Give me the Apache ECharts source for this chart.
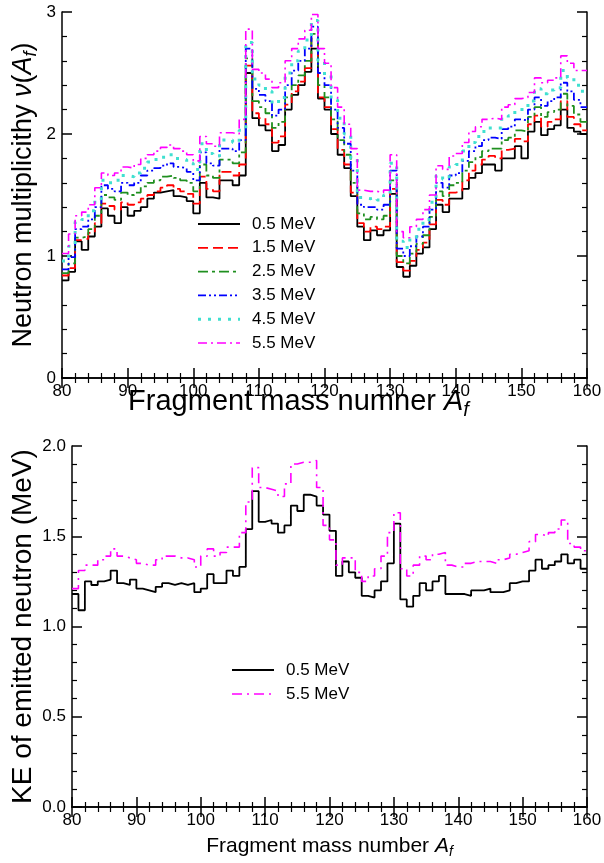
<!DOCTYPE html>
<html>
<head>
<meta charset="utf-8">
<script src="https://cdn.jsdelivr.net/npm/echarts@6/dist/echarts.min.js"></script>
<style>
  html, body { margin: 0; padding: 0; background: #fff; }
  #chart { width: 604px; height: 863px; }
</style>
</head>
<body>
<div id="chart"></div>
<script>
// left edge of each mass bin, A = 80 ... 159
var massNumbers = [];
for (var a = 80; a < 160; a++) massNumbers.push(a);

var energyLabels = ['0.5 MeV', '1.5 MeV', '2.5 MeV', '3.5 MeV', '4.5 MeV', '5.5 MeV'];
var keLabels = ['0.5 MeV', '5.5 MeV'];

// neutron multiplicity nu(A_f), top panel
var nu05 = [0.80,0.87,1.12,1.05,1.16,1.24,1.39,1.33,1.27,1.40, 1.33,1.37,1.40,1.47,1.52,1.53,1.54,1.49,1.48,1.45,
            1.35,1.60,1.48,1.47,1.62,1.62,1.58,1.66,2.50,2.13, 2.07,2.03,1.86,1.91,2.20,2.32,2.40,2.51,2.70,2.29,
            2.20,2.00,1.83,1.72,1.49,1.24,1.13,1.21,1.17,1.21, 1.51,0.91,0.83,0.92,1.02,1.07,1.22,1.42,1.36,1.47,
            1.47,1.55,1.64,1.68,1.75,1.75,1.70,1.80,1.80,1.90, 1.80,2.02,2.10,1.99,2.04,2.07,2.20,2.05,2.02,2.00];
var nu15 = [0.84,0.90,1.13,1.14,1.19,1.27,1.43,1.41,1.38,1.44, 1.42,1.44,1.47,1.50,1.53,1.56,1.58,1.55,1.53,1.51,
            1.43,1.65,1.55,1.53,1.69,1.69,1.66,1.75,2.56,2.17, 2.13,2.08,1.93,1.98,2.24,2.35,2.43,2.54,2.78,2.30,
            2.22,2.04,1.87,1.75,1.52,1.27,1.20,1.24,1.22,1.24, 1.55,0.95,0.88,0.96,1.05,1.11,1.26,1.46,1.42,1.52,
            1.53,1.62,1.70,1.75,1.79,1.82,1.80,1.87,1.88,1.96, 1.94,2.08,2.15,2.06,2.10,2.12,2.27,2.14,2.08,2.03];
var nu25 = [0.86,0.94,1.15,1.16,1.22,1.33,1.50,1.48,1.46,1.52, 1.50,1.52,1.57,1.60,1.62,1.65,1.66,1.64,1.62,1.60,
            1.53,1.75,1.66,1.64,1.79,1.79,1.76,1.85,2.62,2.27, 2.22,2.17,2.05,2.10,2.30,2.40,2.48,2.60,2.82,2.40,
            2.30,2.12,1.95,1.83,1.60,1.35,1.30,1.32,1.30,1.33, 1.62,1.00,0.94,1.02,1.10,1.17,1.32,1.53,1.49,1.58,
            1.60,1.70,1.77,1.81,1.86,1.88,1.88,1.95,1.97,2.03, 2.02,2.14,2.22,2.14,2.18,2.20,2.33,2.23,2.16,2.10];
var nu35 = [0.89,0.99,1.22,1.24,1.30,1.40,1.58,1.55,1.53,1.60, 1.58,1.60,1.66,1.70,1.72,1.74,1.76,1.73,1.72,1.69,
            1.62,1.85,1.76,1.74,1.88,1.88,1.86,1.95,2.70,2.37, 2.32,2.27,2.15,2.20,2.40,2.52,2.60,2.70,2.88,2.50,
            2.40,2.20,2.05,1.92,1.70,1.42,1.40,1.40,1.38,1.42, 1.70,1.06,1.00,1.08,1.16,1.24,1.38,1.60,1.56,1.66,
            1.68,1.78,1.86,1.90,1.95,1.97,1.96,2.04,2.06,2.12, 2.11,2.20,2.30,2.23,2.27,2.30,2.42,2.35,2.28,2.22];
var nu45 = [0.96,1.08,1.28,1.30,1.37,1.47,1.62,1.60,1.62,1.66, 1.65,1.68,1.72,1.77,1.79,1.81,1.83,1.80,1.79,1.76,
            1.71,1.92,1.84,1.82,1.95,1.95,1.93,2.03,2.75,2.45, 2.40,2.35,2.25,2.30,2.50,2.60,2.68,2.77,2.93,2.60,
            2.48,2.28,2.13,2.00,1.80,1.48,1.47,1.48,1.46,1.50, 1.76,1.12,1.07,1.15,1.22,1.30,1.44,1.66,1.63,1.73,
            1.75,1.86,1.93,1.98,2.02,2.05,2.05,2.12,2.15,2.20, 2.20,2.27,2.37,2.33,2.36,2.38,2.52,2.46,2.40,2.35];
var nu55 = [1.02,1.18,1.33,1.36,1.42,1.56,1.68,1.66,1.68,1.73, 1.72,1.75,1.80,1.83,1.86,1.89,1.91,1.88,1.86,1.83,
            1.78,1.98,1.92,1.90,2.01,2.01,2.00,2.12,2.86,2.53, 2.50,2.45,2.38,2.42,2.60,2.70,2.78,2.85,2.98,2.70,
            2.58,2.38,2.22,2.08,1.88,1.54,1.53,1.53,1.52,1.54, 1.83,1.20,1.15,1.24,1.30,1.38,1.50,1.74,1.71,1.82,
            1.84,1.93,2.02,2.06,2.12,2.13,2.12,2.22,2.24,2.29, 2.30,2.34,2.46,2.42,2.44,2.46,2.64,2.58,2.52,2.52];
var nuSeries = [nu05, nu15, nu25, nu35, nu45, nu55];

// kinetic energy of emitted neutron (MeV), bottom panel
var ke05 = [1.18,1.09,1.25,1.23,1.25,1.26,1.31,1.24,1.23,1.26, 1.21,1.20,1.19,1.22,1.24,1.23,1.24,1.23,1.24,1.19,
            1.21,1.29,1.24,1.24,1.31,1.28,1.33,1.54,1.75,1.58, 1.59,1.57,1.52,1.56,1.67,1.64,1.73,1.72,1.67,1.62,
            1.53,1.28,1.36,1.30,1.27,1.17,1.16,1.20,1.25,1.35, 1.57,1.15,1.11,1.17,1.24,1.20,1.25,1.28,1.18,1.18,
            1.18,1.17,1.20,1.20,1.21,1.19,1.19,1.20,1.24,1.25, 1.25,1.31,1.37,1.32,1.34,1.36,1.40,1.35,1.37,1.32];
var ke55 = [1.21,1.31,1.34,1.34,1.37,1.39,1.43,1.39,1.38,1.37, 1.35,1.34,1.34,1.37,1.39,1.39,1.38,1.38,1.37,1.33,
            1.39,1.43,1.39,1.41,1.44,1.44,1.52,1.69,1.88,1.77, 1.76,1.75,1.72,1.79,1.90,1.91,1.91,1.92,1.77,1.56,
            1.48,1.34,1.38,1.38,1.30,1.25,1.28,1.32,1.39,1.52, 1.63,1.32,1.28,1.34,1.39,1.37,1.40,1.41,1.34,1.33,
            1.33,1.35,1.36,1.36,1.36,1.35,1.37,1.38,1.40,1.41, 1.42,1.47,1.51,1.50,1.52,1.54,1.59,1.46,1.44,1.42];

function steps(vals) {
  var pts = vals.map(function (v, i) { return [massNumbers[i], v]; });
  pts.push([massNumbers[massNumbers.length - 1] + 1, vals[vals.length - 1]]);
  return pts;
}

var font = 'Liberation Sans, Arial, sans-serif';
var frame = { lineStyle: { color: '#000', width: 1.5 } };

function nameStyle(size, pad) {
  return {
    color: '#000', fontSize: size, fontFamily: font, padding: pad || 0,
    rich: {
      i: { fontSize: size, fontStyle: 'italic', fontFamily: font, color: '#000' },
      s: { fontSize: Math.round(size * 0.68), fontStyle: 'italic', fontFamily: font, color: '#000',
           padding: [Math.round(size * 0.55), 0, 0, 0] }
    }
  };
}

function xAx(grid, pos, labels, name, gap, size, pad) {
  return {
    type: 'value', gridIndex: grid, position: pos, min: 80, max: 160, interval: 10,
    axisLine: frame,
    axisTick: { inside: true, length: 10, lineStyle: { color: '#000', width: 1.5 } },
    minorTick: { show: true, splitNumber: 5, length: 5, lineStyle: { color: '#000', width: 1.2 } },
    splitLine: { show: false },
    axisLabel: { show: labels, color: '#000', fontSize: 17, fontFamily: font, margin: 5 },
    name: name, nameLocation: 'middle', nameGap: gap, nameMoveOverlap: false,
    nameTextStyle: nameStyle(size || 21, pad)
  };
}

function yAx(grid, pos, labels, max, interval, fmt, name, gap, size, pad) {
  return {
    type: 'value', gridIndex: grid, position: pos, min: 0, max: max, interval: interval,
    axisLine: frame,
    axisTick: { inside: true, length: 10, lineStyle: { color: '#000', width: 1.5 } },
    minorTick: { show: true, splitNumber: 5, length: 5, lineStyle: { color: '#000', width: 1.2 } },
    splitLine: { show: false },
    axisLabel: { show: labels, color: '#000', fontSize: 17, fontFamily: font, margin: 6, formatter: fmt },
    name: name, nameLocation: 'middle', nameGap: gap, nameRotate: 90, nameMoveOverlap: false,
    nameTextStyle: nameStyle(size || 21, pad)
  };
}

var colors = ['#000000', '#ff0000', '#1f8f1f', '#0000ff', '#40e0d0', '#ff00ff'];
var dashes = ['solid', [10, 5], [10, 4, 3, 4], [8, 3, 2, 3, 2, 3], [3, 7], [9, 4, 2, 4]];
var widths = [1.8, 1.8, 1.8, 1.8, 3, 1.6];

var series = [];
nuSeries.forEach(function (vals, k) {
  series.push({
    name: energyLabels[k], type: 'line', step: 'end', xAxisIndex: 0, yAxisIndex: 0,
    data: steps(vals), symbol: 'none', silent: true,
    lineStyle: { color: colors[k], width: widths[k], type: dashes[k], cap: 'butt' }
  });
});
var keColors = ['#000000', '#ff00ff'];
var keDashes = ['solid', [10, 5, 2, 5]];
[ke05, ke55].forEach(function (vals, k) {
  series.push({
    name: 'KE ' + keLabels[k], type: 'line', step: 'end', xAxisIndex: 2, yAxisIndex: 2,
    data: steps(vals), symbol: 'none', silent: true,
    lineStyle: { color: keColors[k], width: k ? 1.6 : 1.8, type: keDashes[k] }
  });
});

// legend keys drawn as plain graphics so the dash patterns show
function legendItems(labels, cols, dash, wid, x0, y0, dy) {
  var out = [];
  labels.forEach(function (lab, k) {
    var y = y0 + k * dy;
    out.push({
      type: 'line', shape: { x1: x0, y1: y, x2: x0 + 42, y2: y },
      style: { stroke: cols[k], lineWidth: wid[k], lineDash: dash[k] === 'solid' ? null : dash[k] }
    });
    out.push({
      type: 'text', x: x0 + 54, y: y,
      style: { text: lab, fill: '#000', font: '17px ' + font, verticalAlign: 'middle' }
    });
  });
  return out;
}

var chart = echarts.init(document.getElementById('chart'), null, { renderer: 'canvas' });
chart.setOption({
  animation: false,
  backgroundColor: '#fff',
  grid: [
    { left: 62, right: 17, top: 12, height: 366, outerBoundsMode: 'none' },
    { left: 72, right: 17, top: 446, height: 361, outerBoundsMode: 'none' }
  ],
  xAxis: [
    xAx(0, 'bottom', true, 'Fragment mass numner {i|A}{s|f}', 6, 29, [0, 52, 0, 0]),
    xAx(0, 'top', false, '', 0),
    xAx(1, 'bottom', true, 'Fragment mass number {i|A}{s|f}', 26, 21),
    xAx(1, 'top', false, '', 0)
  ],
  yAxis: [
    yAx(0, 'left', true, 3, 1, null, 'Neutron multiplicithy {i|ν}({i|A}{s|f})', 22, 27),
    yAx(0, 'right', false, 3, 1, null, '', 0),
    yAx(1, 'left', true, 2, 0.5, function (v) { return v.toFixed(1); }, 'KE of emitted neutron (MeV)', 35, 28),
    yAx(1, 'right', false, 2, 0.5, null, '', 0)
  ],
  graphic: legendItems(energyLabels, colors, dashes, widths, 198, 224, 23.8)
    .concat(legendItems(keLabels, keColors, keDashes, [1.8, 1.6], 232, 670, 24)),
  series: series
});
</script>
</body>
</html>
